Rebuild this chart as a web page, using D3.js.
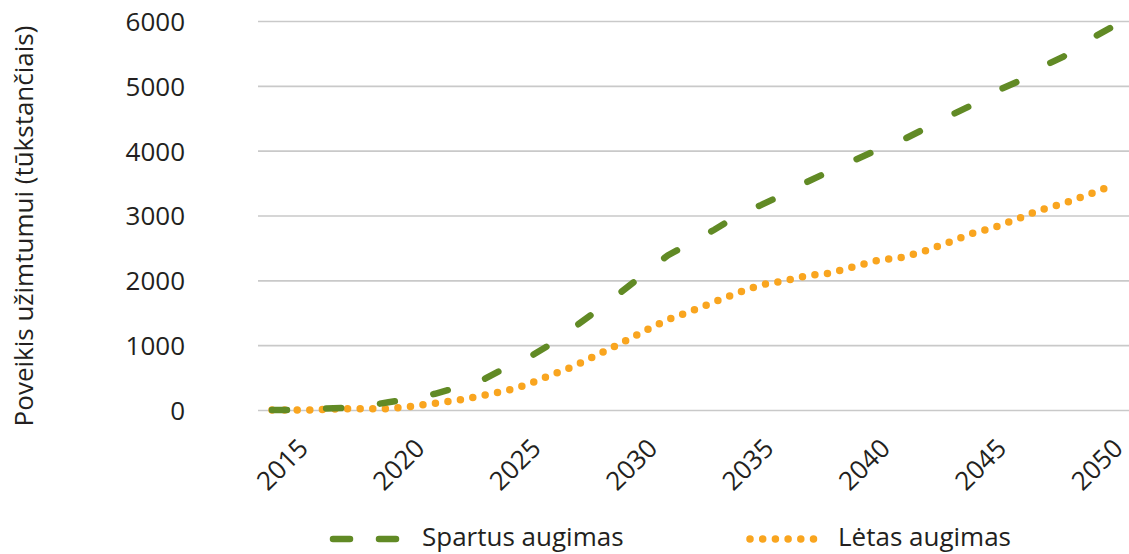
<!DOCTYPE html>
<html>
<head>
<meta charset="utf-8">
<script src="https://cdn.jsdelivr.net/npm/d3@7"></script>
<style>
  html, body { margin: 0; padding: 0; background: #fff; }
  svg { display: block; }
  text { font-family: "Open Sans", "Noto Sans", sans-serif; fill: #231f20; }
</style>
</head>
<body>
<svg id="chart" width="1129" height="554"></svg>
<script>
// ---- Data ----
const years = [2014, 2015, 2016, 2017, 2018, 2019, 2020, 2021, 2022, 2023, 2024, 2025,
  2026, 2027, 2028, 2029, 2030, 2031, 2032, 2033, 2034, 2035, 2036, 2037, 2038,
  2039, 2040, 2041, 2042, 2043, 2044, 2045, 2046, 2047, 2048, 2049, 2050];
const spartusAugimas = [0, 0, 20, 30, 60, 120, 170, 250, 350, 455, 645, 805,
  1020, 1280, 1545, 1820, 2100, 2385, 2580, 2780, 3000, 3160, 3330, 3520, 3690,
  3850, 4010, 4150, 4330, 4520, 4690, 4900, 5060, 5280, 5450, 5690, 5890];
const letasAugimas = [0, 0, 3, 20, 20, 20, 55, 105, 150, 220, 290, 395,
  540, 680, 855, 1030, 1220, 1393, 1525, 1666, 1805, 1931, 1990, 2073, 2112,
  2210, 2305, 2350, 2445, 2575, 2715, 2812, 2945, 3085, 3183, 3313, 3450];
const xTickLabels = [2015, 2020, 2025, 2030, 2035, 2040, 2045, 2050];
const yTickLabels = [0, 1000, 2000, 3000, 4000, 5000, 6000];
const seriesNames = ["Spartus augimas", "Lėtas augimas"];
const yTitle = "Poveikis užimtumui (tūkstančiais)";

// ---- Layout ----
const svg = d3.select("#chart");
const gridLeft = 258, gridRight = 1130;
const x = d3.scaleLinear().domain([2014, 2050]).range([272, 1110]);
const y = d3.scaleLinear().domain([0, 6000]).range([410, 21]);

const green = "#618a25";
const orange = "#f9a51f";
const fontSize = 26;

// Gridlines + y tick labels
const yAxis = svg.append("g")
  .attr("transform", `translate(${gridLeft},0)`)
  .call(d3.axisLeft(y).tickValues(yTickLabels).tickSize(-(gridRight - gridLeft)).tickFormat(d3.format("d")));
yAxis.select(".domain").remove();
yAxis.selectAll(".tick line").attr("stroke", "#c9c9c9").attr("stroke-width", 1.6);
yAxis.selectAll(".tick text")
  .attr("x", 185 - gridLeft).attr("dy", "0.36em")
  .attr("font-size", fontSize).attr("fill", "#231f20")
  .style("font-family", '"Open Sans", sans-serif');

// X axis labels
const xAxis = svg.append("g")
  .attr("transform", `translate(0,${y(0)})`)
  .call(d3.axisBottom(x).tickValues(xTickLabels).tickSize(0).tickFormat(d3.format("d")));
xAxis.select(".domain").remove();
xAxis.selectAll(".tick text")
  .attr("x", 0).attr("y", 0).attr("dy", 0)
  .attr("text-anchor", "end")
  .attr("transform", "translate(14,40) rotate(-45)")
  .attr("font-size", fontSize).attr("fill", "#231f20")
  .style("font-family", '"Open Sans", sans-serif');

// Y title
svg.append("text")
  .attr("transform", `translate(33,226) rotate(-90)`)
  .attr("text-anchor", "middle")
  .attr("font-size", fontSize)
  .text(yTitle);

// Lines
const line = d3.line().x((d, i) => x(years[i])).y(d => y(d));

svg.append("path")
  .datum(letasAugimas)
  .attr("d", line)
  .attr("fill", "none")
  .attr("stroke", orange)
  .attr("stroke-width", 7.5)
  .attr("stroke-linecap", "round")
  .attr("stroke-dasharray", "0 12.6");

const greenPath = svg.append("path")
  .datum(spartusAugimas)
  .attr("d", line)
  .attr("fill", "none")
  .attr("stroke", green)
  .attr("stroke-width", 6.5)
  .attr("stroke-linecap", "round");
// fit 18 dashes so that the last one ends at the last point
const L = greenPath.node().getTotalLength();
const dashLen = 15;
const period = (L - dashLen) / 17;
greenPath.attr("stroke-dasharray", `${dashLen} ${period - dashLen}`);

// Legend
const lg = svg.append("g");
lg.append("line")
  .attr("x1", 333).attr("x2", 396).attr("y1", 539).attr("y2", 539)
  .attr("stroke", green).attr("stroke-width", 6.5)
  .attr("stroke-linecap", "round").attr("stroke-dasharray", "17 29");
lg.append("text").attr("x", 422).attr("y", 546).attr("font-size", fontSize).text(seriesNames[0]);
lg.append("line")
  .attr("x1", 750).attr("x2", 814).attr("y1", 539).attr("y2", 539)
  .attr("stroke", orange).attr("stroke-width", 7.5)
  .attr("stroke-linecap", "round").attr("stroke-dasharray", "0 12.7");
lg.append("text").attr("x", 838).attr("y", 546).attr("font-size", fontSize).text(seriesNames[1]);
</script>
</body>
</html>
